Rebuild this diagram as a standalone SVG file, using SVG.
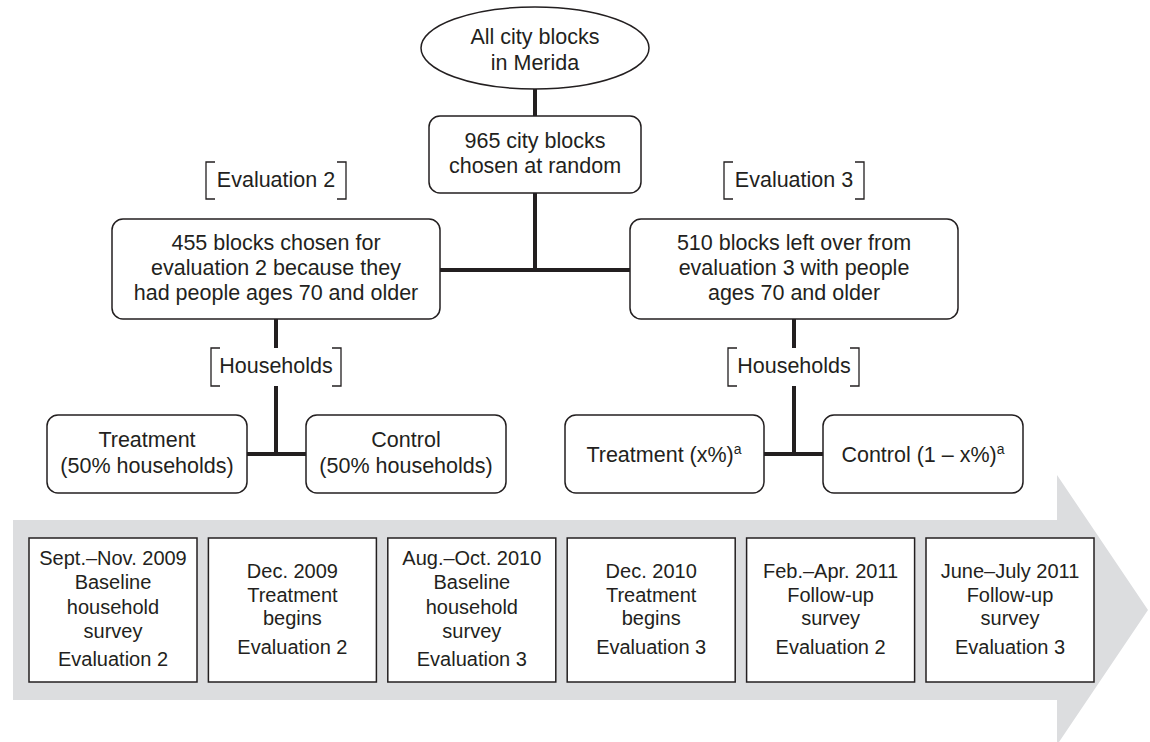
<svg xmlns="http://www.w3.org/2000/svg" width="1150" height="742" viewBox="0 0 1150 742">
<style>
.t{font-family:"Liberation Sans",Arial,sans-serif;font-size:21.5px;fill:#231f20;text-anchor:middle}
.s{font-family:"Liberation Sans",Arial,sans-serif;font-size:20px;fill:#231f20;text-anchor:middle}
.node{fill:#fff;stroke:#231f20;stroke-width:1.5}
.tl{fill:#fff;stroke:#231f20;stroke-width:1.5}
.br{fill:none;stroke:#231f20;stroke-width:1.3}
.conn{fill:none;stroke:#231f20;stroke-width:4}
.sup{font-size:14px}
</style>
<rect width="1150" height="742" fill="#fff"/>
<polygon id="timeline-arrow" points="13,520 1057,520 1057,475 1148,610 1057,745 1057,700 13,700" fill="#dcdddf"/>
<g id="connectors">
<path class="conn" d="M535,89V116M535,193V270M440,270H630"/>
<path class="conn" d="M276,319V348M276,386V454M247,454H306"/>
<path class="conn" d="M794,319V348M794,386V454M764,454H823"/>
</g>
<g id="root">
<ellipse class="node" cx="535" cy="48" rx="114" ry="41"/>
<text class="t" x="535" y="44">All city blocks</text>
<text class="t" x="535" y="70">in Merida</text>
</g>
<g id="chosen">
<rect class="node" x="429" y="116" width="212" height="77" rx="11"/>
<text class="t" x="535" y="148">965 city blocks</text>
<text class="t" x="535" y="173">chosen at random</text>
</g>
<g id="label-eval2">
<path class="br" d="M215,162H206V199H215M337,162H346V199H337"/>
<text class="t" x="276" y="187">Evaluation 2</text>
</g>
<g id="label-eval3">
<path class="br" d="M733,162H724V199H733M855,162H864V199H855"/>
<text class="t" x="794" y="187">Evaluation 3</text>
</g>
<g id="eval2">
<rect class="node" x="112" y="219" width="328" height="100" rx="11"/>
<text class="t" x="276" y="250">455 blocks chosen for</text>
<text class="t" x="276" y="275">evaluation 2 because they</text>
<text class="t" x="276" y="300">had people ages 70 and older</text>
</g>
<g id="eval3">
<rect class="node" x="630" y="219" width="328" height="100" rx="11"/>
<text class="t" x="794" y="250">510 blocks left over from</text>
<text class="t" x="794" y="275">evaluation 3 with people</text>
<text class="t" x="794" y="300">ages 70 and older</text>
</g>
<g id="label-households-2">
<path class="br" d="M220,348H211V386H220M332,348H341V386H332"/>
<text class="t" x="276" y="373">Households</text>
</g>
<g id="label-households-3">
<path class="br" d="M737,348H728V386H737M850,348H859V386H850"/>
<text class="t" x="794" y="373">Households</text>
</g>
<g id="treat2">
<rect class="node" x="47" y="415" width="200" height="78" rx="11"/>
<text class="t" x="147" y="447">Treatment</text>
<text class="t" x="147" y="473">(50% households)</text>
</g>
<g id="control2">
<rect class="node" x="306" y="415" width="200" height="78" rx="11"/>
<text class="t" x="406" y="447">Control</text>
<text class="t" x="406" y="473">(50% households)</text>
</g>
<g id="treat3">
<rect class="node" x="565" y="415" width="199" height="78" rx="11"/>
<text class="t" x="664" y="462">Treatment (x%)<tspan class="sup" dy="-8">a</tspan></text>
</g>
<g id="control3">
<rect class="node" x="823" y="415" width="200" height="78" rx="11"/>
<text class="t" x="923" y="462">Control (1 – x%)<tspan class="sup" dy="-8">a</tspan></text>
</g>
<g id="tl1">
<rect class="tl" x="29" y="538" width="168" height="144"/>
<text class="s" x="113" y="565">Sept.–Nov. 2009</text>
<text class="s" x="113" y="589">Baseline</text>
<text class="s" x="113" y="614">household</text>
<text class="s" x="113" y="638">survey</text>
<text class="s" x="113" y="666">Evaluation 2</text>
</g>
<g id="tl2">
<rect class="tl" x="208.4" y="538" width="168" height="144"/>
<text class="s" x="292.4" y="578">Dec. 2009</text>
<text class="s" x="292.4" y="602">Treatment</text>
<text class="s" x="292.4" y="625">begins</text>
<text class="s" x="292.4" y="654">Evaluation 2</text>
</g>
<g id="tl3">
<rect class="tl" x="387.8" y="538" width="168" height="144"/>
<text class="s" x="471.8" y="565">Aug.–Oct. 2010</text>
<text class="s" x="471.8" y="589">Baseline</text>
<text class="s" x="471.8" y="614">household</text>
<text class="s" x="471.8" y="638">survey</text>
<text class="s" x="471.8" y="666">Evaluation 3</text>
</g>
<g id="tl4">
<rect class="tl" x="567.2" y="538" width="168" height="144"/>
<text class="s" x="651.2" y="578">Dec. 2010</text>
<text class="s" x="651.2" y="602">Treatment</text>
<text class="s" x="651.2" y="625">begins</text>
<text class="s" x="651.2" y="654">Evaluation 3</text>
</g>
<g id="tl5">
<rect class="tl" x="746.6" y="538" width="168" height="144"/>
<text class="s" x="830.6" y="578">Feb.–Apr. 2011</text>
<text class="s" x="830.6" y="602">Follow-up</text>
<text class="s" x="830.6" y="625">survey</text>
<text class="s" x="830.6" y="654">Evaluation 2</text>
</g>
<g id="tl6">
<rect class="tl" x="926" y="538" width="168" height="144"/>
<text class="s" x="1010" y="578">June–July 2011</text>
<text class="s" x="1010" y="602">Follow-up</text>
<text class="s" x="1010" y="625">survey</text>
<text class="s" x="1010" y="654">Evaluation 3</text>
</g>
</svg>
